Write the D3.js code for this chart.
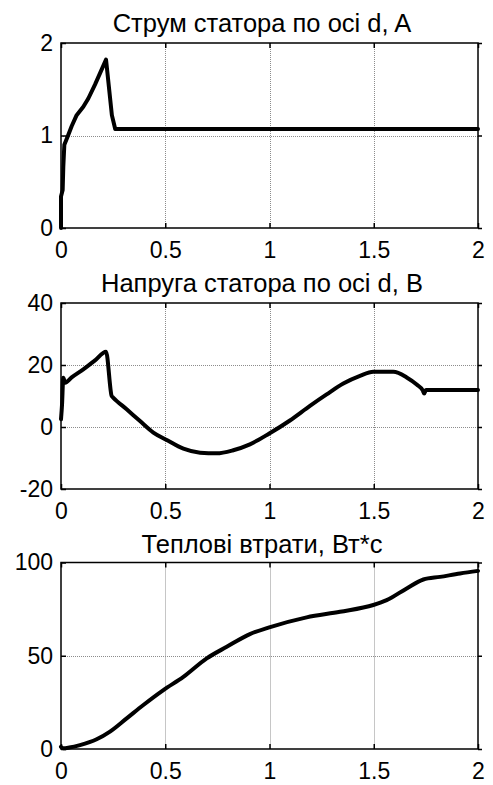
<!DOCTYPE html>
<html>
<head>
<meta charset="utf-8">
<script src="https://cdn.jsdelivr.net/npm/d3@7"></script>
<style>
  html, body { margin: 0; padding: 0; background: #fff; }
  svg { display: block; }
  text { font-family: "Liberation Sans", Arial, sans-serif; fill: #000; }
</style>
</head>
<body>
<svg id="chart" width="493" height="785"></svg>
<script>
// ---- Data ----
const titles = ["Струм статора по осі d, A", "Напруга статора по осі d, B", "Теплові втрати, Вт*с"];

const xTicks = [0, 0.5, 1, 1.5, 2];

const currentT = [0, 0, 0.008, 0.011, 0.016, 0.032, 0.051, 0.075, 0.107, 0.131, 0.163, 0.216, 0.244, 0.26, 2.0];
const currentY = [0, 0.34, 0.41, 0.66, 0.9, 0.99, 1.1, 1.22, 1.31, 1.4, 1.55, 1.82, 1.22, 1.07, 1.07];
const currentTicks = [0, 1, 2];

const voltageT = [0, 0.005, 0.011, 0.02, 0.051, 0.107, 0.163, 0.216, 0.243, 0.25, 0.315, 0.379, 0.443, 0.507, 0.587, 0.667, 0.747, 0.826, 0.906, 0.999, 1.098, 1.194, 1.274, 1.354, 1.434, 1.498, 1.594, 1.658, 1.706, 1.735, 1.742, 1.75, 2.0];
const voltageY = [2.5, 7.3, 15.9, 14.3, 16, 18.6, 21.5, 24.3, 10, 9.5, 5.7, 1.9, -1.8, -4.2, -7, -8.3, -8.5, -7.5, -5.6, -2.1, 2.1, 6.8, 10.5, 14, 16.5, 17.8, 17.8, 16, 13.7, 11.8, 10.8, 11.9, 11.9];
const voltageTicks = [-20, 0, 20, 40];

const heatT = [0, 0.01, 0.04, 0.091, 0.171, 0.235, 0.315, 0.395, 0.491, 0.587, 0.699, 0.795, 0.906, 0.999, 1.178, 1.338, 1.498, 1.562, 1.658, 1.738, 1.818, 1.914, 2.0];
const heatY = [1.2, 0.4, 0.8, 2.1, 5.2, 9.3, 16.4, 23.6, 31.6, 38.7, 48.6, 54.8, 61.6, 65.2, 70.6, 73.6, 77.2, 79.8, 86.1, 90.9, 92.3, 94.1, 95.5];
const heatTicks = [0, 50, 100];

// ---- Layout ----
const svg = d3.select("#chart");
const left = 61, right = 478;
const panels = [
  { top: 43,    bottom: 228, titleY: 32,    t: currentT, y: currentY, yDomain: [0, 2],    yTicks: currentTicks, title: titles[0], curve: d3.curveLinear },
  { top: 303,   bottom: 489, titleY: 292,   t: voltageT, y: voltageY, yDomain: [-20, 40], yTicks: voltageTicks, title: titles[1], curve: d3.curveMonotoneX },
  { top: 562.5, bottom: 749, titleY: 552.5, t: heatT,    y: heatY,    yDomain: [0, 100],  yTicks: heatTicks,    title: titles[2], curve: d3.curveMonotoneX }
];

const tickFont = 23;
const titleFont = 25.5;

panels.forEach(p => {
  const x = d3.scaleLinear().domain([0, 2]).range([left, right]);
  const y = d3.scaleLinear().domain(p.yDomain).range([p.bottom, p.top]);
  const g = svg.append("g");

  // grid (interior ticks only)
  const innerX = xTicks.filter(v => v > 0 && v < 2);
  const innerY = p.yTicks.filter(v => v > p.yDomain[0] && v < p.yDomain[1]);
  g.selectAll(".gx").data(innerX).enter().append("line")
    .attr("x1", d => Math.round(x(d)) + 0.5).attr("x2", d => Math.round(x(d)) + 0.5)
    .attr("y1", p.top).attr("y2", p.bottom)
    .attr("stroke", "#8c8c8c").attr("stroke-width", 1).attr("stroke-dasharray", "1,1");
  g.selectAll(".gy").data(innerY).enter().append("line")
    .attr("y1", d => Math.round(y(d)) + 0.5).attr("y2", d => Math.round(y(d)) + 0.5)
    .attr("x1", left).attr("x2", right)
    .attr("stroke", "#8c8c8c").attr("stroke-width", 1).attr("stroke-dasharray", "1,1");

  // axes
  const xAxis = d3.axisBottom(x).tickValues(xTicks).tickSize(-5).tickPadding(14).tickFormat(d3.format("~g"));
  const yAxis = d3.axisLeft(y).tickValues(p.yTicks).tickSize(-5).tickPadding(8).tickFormat(d => d < 0 ? "-" + Math.abs(d) : String(d));
  const xTop = d3.axisTop(x).tickValues(xTicks).tickSize(-5).tickFormat("");
  const yRight = d3.axisRight(y).tickValues(p.yTicks).tickSize(4).tickFormat("");

  const styleAxis = sel => {
    sel.select(".domain").remove();
    sel.selectAll("line").attr("stroke", "#000").attr("stroke-width", 1.5);
    sel.selectAll("text").attr("font-size", tickFont).attr("fill", "#000")
      .style("font-family", "'Liberation Sans', Arial, sans-serif");
  };
  g.append("g").attr("transform", `translate(0,${p.bottom})`).call(xAxis).call(styleAxis);
  g.append("g").attr("transform", `translate(${left},0)`).call(yAxis).call(styleAxis);
  g.append("g").attr("transform", `translate(0,${p.top})`).call(xTop).call(styleAxis);
  g.append("g").attr("transform", `translate(${right},0)`).call(yRight).call(styleAxis);

  // box
  g.append("rect").attr("x", left).attr("y", p.top)
    .attr("width", right - left).attr("height", p.bottom - p.top)
    .attr("fill", "none").attr("stroke", "#000").attr("stroke-width", 1.5);

  // data line
  const pts = p.t.map((t, i) => [t, p.y[i]]);
  g.append("path").datum(pts)
    .attr("d", d3.line().curve(p.curve).x(d => x(d[0])).y(d => y(d[1])))
    .attr("fill", "none").attr("stroke", "#000").attr("stroke-width", 4)
    .attr("stroke-linejoin", "round").attr("stroke-linecap", "round");

  // title
  svg.append("text").attr("x", 262).attr("y", p.titleY)
    .attr("text-anchor", "middle").attr("font-size", titleFont)
    .text(p.title);
});
</script>
</body>
</html>
